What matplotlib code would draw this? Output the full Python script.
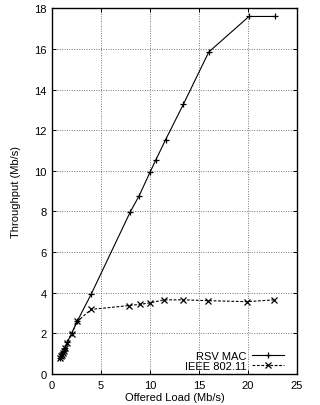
import matplotlib
matplotlib.use("Agg")
import matplotlib.pyplot as plt

plt.rcParams['font.family'] = ['Liberation Sans', 'DejaVu Sans']

rsv_x = [0.8, 0.9, 1.0, 1.1, 1.2, 1.35, 1.55, 2.0, 2.6, 4.0, 8.0, 8.9, 10.0, 10.6, 11.6, 13.4, 16.0, 20.1, 22.8]
rsv_y = [0.79, 0.88, 0.96, 1.06, 1.15, 1.3, 1.55, 2.0, 2.62, 3.93, 7.99, 8.78, 9.93, 10.54, 11.54, 13.27, 15.85, 17.6, 17.6]

ieee_x = [0.8, 0.9, 1.0, 1.1, 1.2, 1.35, 1.55, 2.0, 2.6, 4.0, 7.9, 9.0, 10.0, 11.4, 13.4, 15.9, 19.9, 22.7]
ieee_y = [0.78, 0.87, 0.95, 1.05, 1.14, 1.28, 1.52, 1.98, 2.6, 3.18, 3.37, 3.43, 3.5, 3.65, 3.65, 3.61, 3.56, 3.65]

fig = plt.figure(figsize=(3.2, 4.06), dpi=100)
ax = fig.add_axes([0.1625, 0.0764, 0.7655, 0.9006])

ax.plot(rsv_x, rsv_y, color='black', linestyle='-', linewidth=0.8,
        marker='+', markersize=5, markeredgewidth=0.9, label='RSV MAC')
ax.plot(ieee_x, ieee_y, color='black', linestyle=(0, (2.5, 1.5)), linewidth=0.8,
        marker='x', markersize=4, markeredgewidth=0.9, label='IEEE 802.11')

ax.set_xlim(0, 25)
ax.set_ylim(0, 18)
ax.set_xticks([0, 5, 10, 15, 20, 25])
ax.set_yticks([0, 2, 4, 6, 8, 10, 12, 14, 16, 18])
ax.grid(True, color='#777777', linestyle=(0, (1, 1.5)), linewidth=0.7)
ax.tick_params(direction='in', top=True, right=True, labelsize=8, length=3, width=0.7, pad=4)
for s in ax.spines.values():
    s.set_linewidth(1.0)

ax.set_xlabel('Offered Load (Mb/s)', fontsize=8, labelpad=2)
ax.set_ylabel('Throughput (Mb/s)', fontsize=8, labelpad=9)

leg = ax.legend(loc='lower right', frameon=False, markerfirst=False, fontsize=8,
                handlelength=2.9, handletextpad=0.5, labelspacing=0.0,
                borderaxespad=0.0, bbox_to_anchor=(0.965, -0.005), alignment='right')
for t in leg.get_texts():
    t.set_ha('right')

fig.savefig('out.png', dpi=100)
